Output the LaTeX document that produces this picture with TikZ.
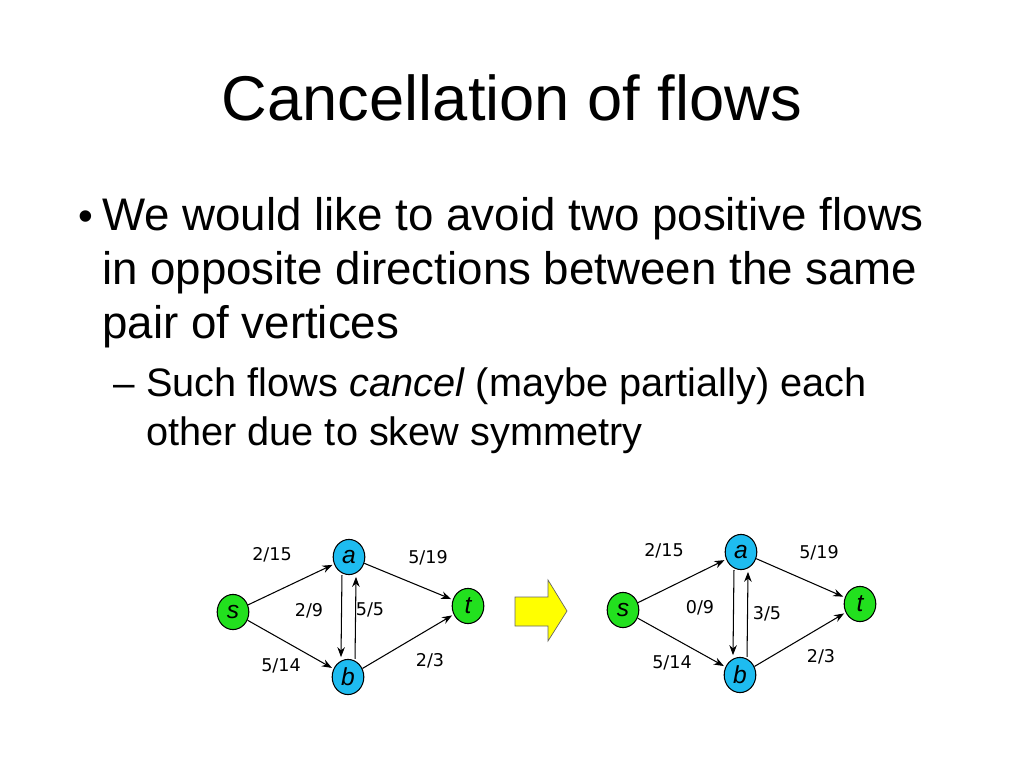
\documentclass[tikz,border=0pt]{standalone}
\usepackage{fontspec}
\setmainfont{Liberation Sans}
\newfontfamily\labelfont{DejaVu Sans}
\usetikzlibrary{arrows.meta, positioning, shapes.geometric}
\definecolor{CGreen}{HTML}{22E01E}
\definecolor{CCyan}{HTML}{1EBCF0}
\definecolor{CYellow}{HTML}{FFFF00}
\tikzset{
  vtx/.style={ellipse, draw, semithick, minimum width=18pt, minimum height=20pt, inner sep=0pt, font=\fontsize{14}{14}\selectfont\itshape},
  src/.style={vtx, fill=CGreen},
  mid/.style={vtx, fill=CCyan},
  edge/.style={-Stealth, semithick, shorten >=1pt},
  lbl/.style={font=\labelfont\fontsize{10}{10}\selectfont}
}
\begin{document}
\begin{tikzpicture}[x=0.02cm, y=-0.02cm]
    \useasboundingbox (0,0) rectangle (1024,768);

    % Title and bullets
    \node (title) at (512,98) {\fontsize{36}{36}\selectfont Cancellation of flows};
    \node[anchor=base west] (d1) at (72,230) {\fontsize{24}{24}\selectfont •};
    \node[anchor=base west] (b1) at (96,230) {\fontsize{26}{26}\selectfont We would like to avoid two positive flows};
    \node[anchor=base west] (b2) at (96,284) {\fontsize{26}{26}\selectfont in opposite directions between the same};
    \node[anchor=base west] (b3) at (96,338) {\fontsize{26}{26}\selectfont pair of vertices};
    \node[anchor=base west] (d2) at (107,396) {\fontsize{22}{22}\selectfont –};
    \node[anchor=base west] (c1) at (140,396) {\fontsize{22.6}{22.6}\selectfont Such flows \textit{cancel} (maybe partially) each};
    \node[anchor=base west] (c2) at (140,445) {\fontsize{22.6}{22.6}\selectfont other due to skew symmetry};

    % Graph before
    \begin{scope}[shift={(233,612)}]
        \node[src] (s) at (0,0) {s};
        \node[mid] (a) at (116,-55) {a};
        \node[mid] (b) at (115,65) {b};
        \node[src] (t) at (235,-6) {t};
        \draw[edge] (s) -- (a);
        \draw[edge] (s) -- (b);
        \draw[edge] (a) -- (t);
        \draw[edge] (b) -- (t);
        \draw[edge] ([xshift=-4]a.south) -- ([xshift=-4]b.north);
        \draw[edge] ([xshift=4]b.north) -- ([xshift=4]a.south);
        \node[lbl] (l1) at (39,-57) {2/15};
        \node[lbl] (l2) at (195,-54) {5/19};
        \node[lbl] (l3) at (76,-1) {2/9};
        \node[lbl] (l4) at (137,-2) {5/5};
        \node[lbl] (l5) at (48,54) {5/14};
        \node[lbl] (l6) at (197,49) {2/3};
    \end{scope}

    % Arrow
    \fill[CYellow, draw=black!60] (515,597) -- (548,597) -- (548,580) -- (567,611) -- (548,641) -- (548,626) -- (515,626) -- cycle;

    % Graph after
    \begin{scope}[shift={(623,610)}]
        \node[src] (s2) at (0,0) {s};
        \node[mid] (a2) at (118,-58) {a};
        \node[mid] (b2) at (117,65) {b};
        \node[src] (t2) at (237,-6) {t};
        \draw[edge] (s2) -- (a2);
        \draw[edge] (s2) -- (b2);
        \draw[edge] (a2) -- (t2);
        \draw[edge] (b2) -- (t2);
        \draw[edge] ([xshift=-4]a2.south) -- ([xshift=-4]b2.north);
        \draw[edge] ([xshift=4]b2.north) -- ([xshift=4]a2.south);
        \node[lbl] (m1) at (41,-59) {2/15};
        \node[lbl] (m2) at (196,-57) {5/19};
        \node[lbl] (m3) at (77,-2) {0/9};
        \node[lbl] (m4) at (144,4) {3/5};
        \node[lbl] (m5) at (49,53) {5/14};
        \node[lbl] (m6) at (198,47) {2/3};
    \end{scope}
\end{tikzpicture}
\end{document}
